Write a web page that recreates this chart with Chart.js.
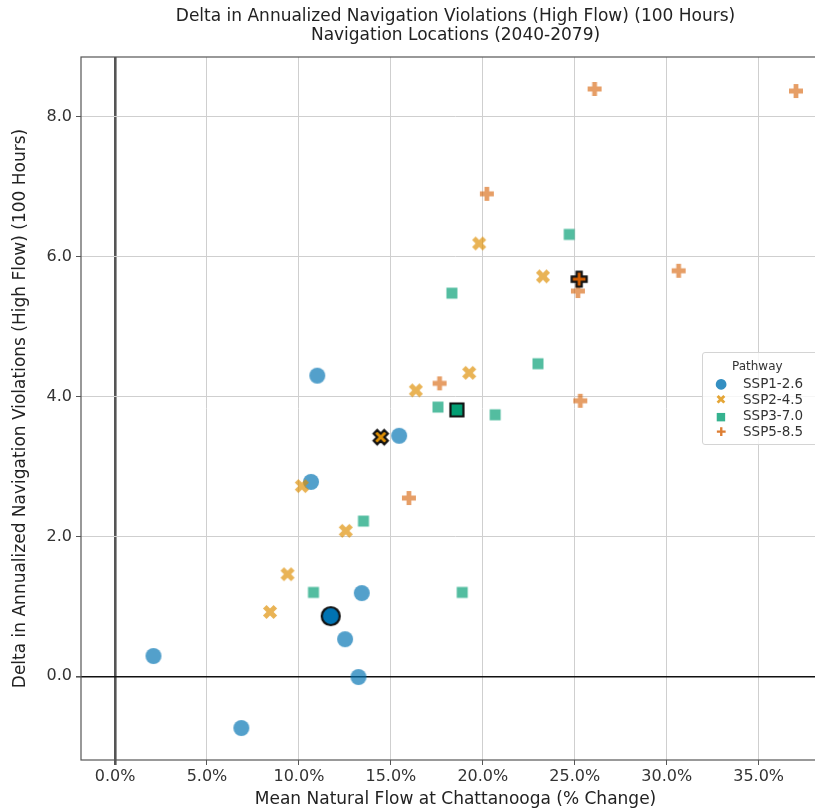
<!DOCTYPE html>
<html>
<head>
<meta charset="utf-8">
<title>Navigation Violations scatter</title>
<script src="https://cdn.jsdelivr.net/npm/chart.js@4.4.1/dist/chart.umd.min.js"></script>
<style>
  html, body { margin: 0; padding: 0; background: #fff; overflow: hidden; }
  #wrap { position: relative; width: 840px; height: 812px; }
  #legend {
    position: absolute; left: 702px; top: 352px; width: 122px; height: 93px;
    border: 1px solid #d4d4d4; border-radius: 3px; background: rgba(255,255,255,0.8);
    font-family: "DejaVu Sans", sans-serif; font-size: 13.5px; color: #333; box-sizing: border-box;
  }
  #legend .ttl { font-size: 12px; padding-left: 29px; margin-top: 4px; height: 18px; line-height: 18px; }
  #legend .row { height: 16px; line-height: 16px; white-space: nowrap; }
  #legend .mk { display: inline-block; width: 16px; margin-left: 10px; margin-right: 14px; text-align: center; }
</style>
</head>
<body>
<div id="wrap">
  <canvas id="chart" width="840" height="812"></canvas>
  <div id="legend"></div>
</div>
<script>
// ========== Data ==========
const pathways = ["SSP1-2.6", "SSP2-4.5", "SSP3-7.0", "SSP5-8.5"];
const colors = ["#0173b2", "#de8f05", "#029e73", "#d55e00"];

// x = mean natural flow change (fraction), y = delta violations (100 hours)
const ssp126X = [0.0209, 0.0687, 0.1100, 0.1066, 0.1545, 0.1342, 0.1251, 0.1324];
const ssp126Y = [0.29, -0.74, 4.30, 2.78, 3.44, 1.19, 0.53, -0.01];
const ssp245X = [0.0843, 0.0938, 0.1016, 0.1255, 0.1636, 0.1926, 0.1980, 0.2327];
const ssp245Y = [0.92, 1.46, 2.72, 2.08, 4.09, 4.34, 6.19, 5.72];
const ssp370X = [0.1079, 0.1351, 0.1756, 0.1832, 0.1888, 0.2067, 0.2300, 0.2470];
const ssp370Y = [1.20, 2.22, 3.85, 5.48, 1.20, 3.74, 4.47, 6.32];
const ssp585X = [0.1598, 0.1765, 0.2022, 0.2517, 0.2530, 0.2608, 0.3065, 0.3703];
const ssp585Y = [2.55, 4.19, 6.90, 5.51, 3.94, 8.40, 5.80, 8.37];

// highlighted (black-edged) point for each pathway
const highlightX = [0.1173, 0.1445, 0.1859, 0.2524];
const highlightY = [0.86, 3.42, 3.81, 5.68];

const xTicks = [0, 0.05, 0.10, 0.15, 0.20, 0.25, 0.30, 0.35];
const yTicks = [0, 2, 4, 6, 8];

const titleLines = [
  "Delta in Annualized Navigation Violations (High Flow) (100 Hours)",
  "Navigation Locations (2040-2079)",
];
const xLabel = "Mean Natural Flow at Chattanooga (% Change)";
const yLabel = "Delta in Annualized Navigation Violations (High Flow) (100 Hours)";

// ========== Marker images (matplotlib-like o, X, s, P) ==========
function crossPath(g, L, w, rot) {
  const pts = [[-w,-L],[w,-L],[w,-w],[L,-w],[L,w],[w,w],[w,L],[-w,L],[-w,w],[-L,w],[-L,-w],[-w,-w]];
  const c = Math.cos(rot), s = Math.sin(rot);
  pts.forEach(([x, y], i) => {
    const px = x * c - y * s, py = x * s + y * c;
    i ? g.lineTo(px, py) : g.moveTo(px, py);
  });
  g.closePath();
}

function marker(shape, color, alpha, size, edge) {
  const c = document.createElement("canvas");
  c.width = c.height = 26;
  const g = c.getContext("2d");
  g.translate(13, 13);
  g.beginPath();
  if (shape === "circle") g.arc(0, 0, size / 2, 0, Math.PI * 2);
  else if (shape === "square") g.rect(-size / 2, -size / 2, size, size);
  else if (shape === "x") crossPath(g, size / 2 * 1.25, size / 2 * 0.42, Math.PI / 4);
  else crossPath(g, size / 2, size / 2 * 0.34, 0);
  g.globalAlpha = alpha;
  g.fillStyle = color;
  g.fill();
  if (edge) {
    g.globalAlpha = 1;
    g.lineWidth = 2.2;
    g.lineJoin = "miter";
    g.strokeStyle = edge;
    g.stroke();
  }
  return c;
}

const shapes = ["circle", "x", "square", "plus"];
const sizes = [16, 12, 11, 14];
const alphas = [0.68, 0.68, 0.68, 0.6];
const hlSizes = [18, 12, 13, 15];

const toPts = (xs, ys) => xs.map((x, i) => ({ x, y: ys[i] }));
const seriesX = [ssp126X, ssp245X, ssp370X, ssp585X];
const seriesY = [ssp126Y, ssp245Y, ssp370Y, ssp585Y];

const datasets = pathways.map((name, i) => ({
  label: name,
  data: toPts(seriesX[i], seriesY[i]),
  xAxisID: "x",
  yAxisID: "y",
  pointStyle: marker(shapes[i], colors[i], alphas[i], sizes[i]),
  pointRadius: 8,
  pointHoverRadius: 8,
  order: 4 - i,
}));
datasets.push({
  label: "highlight",
  data: toPts(highlightX, highlightY),
  xAxisID: "x",
  yAxisID: "y",
  pointStyle: shapes.map((s, i) => marker(s, colors[i], 1, hlSizes[i], "#111")),
  pointRadius: 9,
  order: -1,
});

// ========== Plugins ==========
const frame = {
  id: "frame",
  afterDatasetsDraw(chart) {
    const { ctx, chartArea: a } = chart;
    ctx.save();
    ctx.strokeStyle = "#555";
    ctx.lineWidth = 1.2;
    ctx.strokeRect(a.left, a.top, a.right - a.left, a.bottom - a.top);
    ctx.restore();
  },
};

const font = (size) => ({ family: "'DejaVu Sans', sans-serif", size, weight: "normal" });

new Chart(document.getElementById("chart"), {
  type: "scatter",
  data: { datasets },
  options: {
    responsive: false,
    animation: false,
    devicePixelRatio: 1,
    layout: { padding: { left: 0, right: 1, top: 0, bottom: 0 } },
    plugins: {
      legend: { display: false },
      tooltip: { enabled: false },
    },
    scales: {
      x: {
        type: "linear",
        min: -0.0185,
        max: 0.3888,
        afterBuildTicks: (s) => { s.ticks = xTicks.map((v) => ({ value: v })); },
        afterFit: (s) => { s.height = 52; },
        ticks: {
          color: "#333", font: font(16), padding: 2, maxRotation: 0,
          callback: (v) => (v * 100).toFixed(1) + "%",
        },
        grid: {
          color: (c) => (c.tick && c.tick.value === 0 ? "#555" : "#cfcfcf"),
          lineWidth: (c) => (c.tick && c.tick.value === 0 ? 2.6 : 1),
          tickColor: "#555", tickLength: 5,
        },
        border: { display: false },
        title: { display: true, text: xLabel, color: "#222", font: font(17), padding: { top: 0, bottom: 2 } },
      },
      y: {
        type: "linear",
        min: -1.197,
        max: 8.857,
        afterBuildTicks: (s) => { s.ticks = yTicks.map((v) => ({ value: v })); },
        afterFit: (s) => { s.width = 81; },
        ticks: { color: "#333", font: font(16), padding: 4, callback: (v) => v.toFixed(1) },
        grid: {
          color: (c) => (c.tick && c.tick.value === 0 ? "#111" : "#cfcfcf"),
          lineWidth: (c) => (c.tick && c.tick.value === 0 ? 1.6 : 1),
          tickColor: "#555", tickLength: 5,
        },
        border: { display: false },
        title: { display: true, text: yLabel, color: "#222", font: font(17), padding: { top: 10, bottom: 0 } },
      },
      // top axis only carries the two-line title, centred over the plot area
      top: {
        type: "linear",
        position: "top",
        afterFit: (s) => { s.height = 57; },
        ticks: { display: false },
        grid: { display: false },
        border: { display: false },
        title: {
          display: true,
          text: titleLines,
          color: "#222",
          font: { ...font(17), lineHeight: 1.12 },
          padding: { top: 7, bottom: 0 },
        },
      },
    },
  },
  plugins: [frame],
});

// ========== Legend (HTML, inside the plot) ==========
const glyphs = ["\u25CF", "\u2716", "\u25A0", "\u271A"];
const glyphSize = [14, 13, 11, 12];
const legend = document.getElementById("legend");
legend.innerHTML = '<div class="ttl">Pathway</div>' + pathways.map((p, i) =>
  `<div class="row"><span class="mk" style="color:${colors[i]};opacity:0.8;font-size:${glyphSize[i]}px">${glyphs[i]}</span>${p}</div>`
).join("");
</script>
</body>
</html>
